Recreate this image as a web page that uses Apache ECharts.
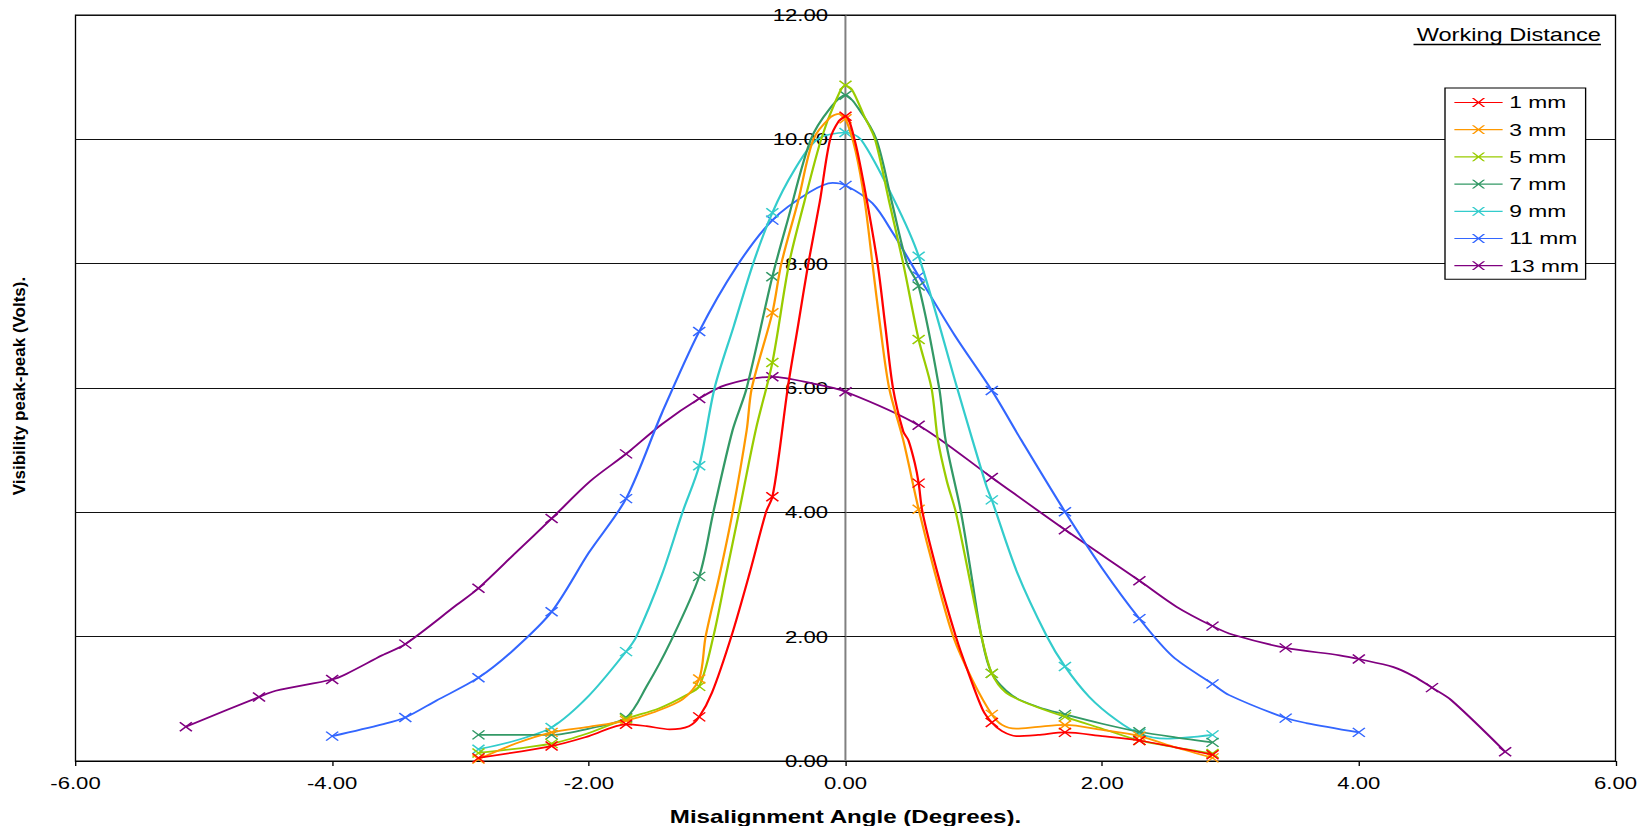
<!DOCTYPE html>
<html>
<head>
<meta charset="utf-8">
<script src="https://cdn.jsdelivr.net/npm/echarts/dist/echarts.min.js"></script>
<style>
html,body{margin:0;padding:0;background:#fff;overflow:hidden}
#wrap{width:1652px;height:826px;overflow:hidden;background:#fff}
#chart{width:1233px;height:826px;transform:scaleX(1.339822);transform-origin:0 0}
</style>
</head>
<body>
<div id="wrap"><div id="chart"></div></div>
<script>
// ---- data (angle in degrees, visibility in volts) ----
const MARKER_ANGLES = [-5.14,-4.57,-4.00,-3.43,-2.86,-2.29,-1.71,-1.14,-0.57,0,0.57,1.14,1.71,2.29,2.86,3.43,4.00,4.57,5.14];
const X_TICKS = [-6,-4,-2,0,2,4,6];
const Y_TICKS = [0,2,4,6,8,10,12];
const SERIES_NAMES = ['1 mm','3 mm','5 mm','7 mm','9 mm','11 mm','13 mm'];
const SERIES_COLORS = ['#FF0000','#FF9900','#99CC00','#339966','#33CCCC','#3366FF','#800080'];

const WD_1MM = [[-2.86,0.05],[-2.29,0.24],[-2.0,0.40],[-1.71,0.59],[-1.55,0.56],[-1.37,0.51],[-1.22,0.56],[-1.14,0.71],[-1.04,1.10],[-0.89,2.0],[-0.75,3.0],[-0.62,4.0],[-0.57,4.25],[-0.52,4.9],[-0.45,6.0],[-0.37,7.0],[-0.29,8.0],[-0.2,9.0],[-0.12,10.0],[-0.05,10.3],[0,10.37],[0.07,10.0],[0.15,9.2],[0.25,8.0],[0.31,7.0],[0.37,6.0],[0.45,5.3],[0.49,5.16],[0.54,4.79],[0.57,4.47],[0.6,4.0],[0.72,3.0],[0.86,2.0],[0.94,1.52],[1.07,0.82],[1.14,0.62],[1.22,0.48],[1.33,0.40],[1.5,0.42],[1.71,0.46],[2.0,0.40],[2.29,0.33],[2.57,0.22],[2.86,0.10]];
const WD_3MM = [[-2.86,0.03],[-2.57,0.28],[-2.29,0.46],[-2.0,0.55],[-1.71,0.65],[-1.5,0.78],[-1.27,0.99],[-1.14,1.32],[-1.09,2.0],[-0.98,3.0],[-0.88,4.0],[-0.77,5.32],[-0.73,6.0],[-0.57,7.21],[-0.50,8.0],[-0.37,9.0],[-0.25,10.0],[-0.12,10.35],[-0.05,10.41],[0,10.33],[0.08,9.8],[0.15,9.0],[0.21,8.0],[0.27,7.0],[0.34,6.0],[0.45,5.16],[0.57,4.05],[0.7,3.0],[0.84,2.0],[0.99,1.30],[1.14,0.75],[1.22,0.58],[1.33,0.52],[1.5,0.55],[1.71,0.58],[2.0,0.50],[2.29,0.40],[2.57,0.22],[2.86,0.05]];
const WD_5MM = [[-2.86,0.13],[-2.29,0.28],[-2.0,0.45],[-1.71,0.68],[-1.45,0.85],[-1.25,1.05],[-1.14,1.20],[-1.03,2.0],[-0.93,3.0],[-0.83,4.0],[-0.70,5.32],[-0.57,6.41],[-0.44,8.0],[-0.32,9.0],[-0.19,10.0],[-0.08,10.6],[0,10.87],[0.05,10.8],[0.14,10.4],[0.23,10.0],[0.34,9.0],[0.45,8.0],[0.57,6.78],[0.67,6.0],[0.72,5.16],[0.79,4.5],[0.86,4.0],[0.96,3.0],[1.06,2.0],[1.14,1.41],[1.25,1.1],[1.45,0.9],[1.71,0.71],[2.0,0.52],[2.29,0.33],[2.57,0.22],[2.86,0.12]];
const WD_7MM = [[-2.86,0.42],[-2.29,0.42],[-2.0,0.52],[-1.71,0.70],[-1.55,1.2],[-1.37,1.89],[-1.14,2.97],[-1.03,4.0],[-0.88,5.32],[-0.77,6.0],[-0.57,7.79],[-0.45,8.7],[-0.27,10.0],[-0.12,10.5],[0,10.71],[0.1,10.5],[0.24,10.0],[0.36,9.0],[0.48,8.0],[0.57,7.64],[0.73,6.0],[0.78,5.16],[0.9,4.0],[0.98,3.0],[1.06,2.0],[1.14,1.41],[1.3,1.05],[1.5,0.87],[1.71,0.75],[2.0,0.6],[2.29,0.47],[2.57,0.38],[2.86,0.30]];
const WD_9MM = [[-2.86,0.19],[-2.57,0.33],[-2.29,0.54],[-2.0,1.05],[-1.71,1.76],[-1.63,2.0],[-1.43,3.0],[-1.27,4.0],[-1.14,4.75],[-1.02,6.0],[-0.87,7.0],[-0.72,8.0],[-0.57,8.82],[-0.4,9.5],[-0.22,10.0],[0,10.11],[0.12,10.0],[0.38,9.02],[0.57,8.12],[0.87,6.0],[0.99,5.16],[1.1,4.41],[1.14,4.2],[1.34,3.02],[1.57,2.0],[1.71,1.52],[1.9,1.03],[2.11,0.66],[2.29,0.44],[2.5,0.36],[2.86,0.42]];
const WD_11MM = [[-4.0,0.40],[-3.61,0.59],[-3.43,0.70],[-3.19,0.97],[-2.86,1.34],[-2.59,1.78],[-2.29,2.40],[-2.0,3.35],[-1.71,4.22],[-1.43,5.6],[-1.14,6.91],[-0.85,7.95],[-0.57,8.70],[-0.28,9.15],[-0.1,9.3],[0,9.26],[0.21,8.97],[0.37,8.49],[0.57,7.80],[0.85,6.85],[1.14,5.96],[1.37,5.16],[1.71,4.01],[2.0,3.1],[2.29,2.29],[2.55,1.68],[2.86,1.24],[2.99,1.06],[3.43,0.69],[3.59,0.61],[4.0,0.46]];
const WD_13MM = [[-5.14,0.55],[-4.57,1.03],[-4.44,1.13],[-4.0,1.31],[-3.89,1.40],[-3.61,1.70],[-3.43,1.88],[-3.03,2.51],[-2.86,2.78],[-2.57,3.35],[-2.29,3.90],[-1.99,4.5],[-1.71,4.94],[-1.43,5.42],[-1.14,5.83],[-0.93,6.05],[-0.57,6.18],[-0.25,6.07],[0,5.94],[0.57,5.40],[1.14,4.56],[1.71,3.72],[2.29,2.90],[2.58,2.48],[2.86,2.17],[3.02,2.03],[3.43,1.82],[3.85,1.70],[4.0,1.64],[4.27,1.51],[4.43,1.36],[4.57,1.18],[4.72,0.98],[5.14,0.15]];
const SERIES_DATA = [WD_1MM, WD_3MM, WD_5MM, WD_7MM, WD_9MM, WD_11MM, WD_13MM];

// ---- styling ----
const FONT = '"Liberation Sans", Arial, sans-serif';
const X_MARK = 'path://M0,0L10,10M10,0L0,10';
const LEGEND_ICON = 'path://M0,4.4L36,4.4L36,5.6L0,5.6Z M13,0.6L14.6,0.6L23,9.4L21.4,9.4Z M21.4,0.6L23,0.6L14.6,9.4L13,9.4Z';
const GRID_LEFT = 56.35, GRID_RIGHT = 27.24, CHART_W = 1233;
const Y_AXIS_SHIFT = (CHART_W - GRID_LEFT - GRID_RIGHT) / 2; // moves y axis onto x = 0

function isMarker(v) {
  return MARKER_ANGLES.some(a => Math.abs(a - v[0]) < 1e-6);
}

const chart = echarts.init(document.getElementById('chart'), null, {renderer: 'svg'});

const series = SERIES_DATA.map((d, i) => ({
  name: SERIES_NAMES[i],
  type: 'line',
  data: d,
  smooth: 0.3,
  symbol: (v) => isMarker(v) ? X_MARK : 'none',
  symbolSize: [9, 9],
  showAllSymbol: true,
  lineStyle: {color: SERIES_COLORS[i], width: 1.7},
  itemStyle: {color: SERIES_COLORS[i], borderColor: SERIES_COLORS[i], borderWidth: 1.3},
  emphasis: {disabled: true},
  z: 10 - i
}));

chart.setOption({
  animation: false,
  backgroundColor: '#fff',
  grid: {left: GRID_LEFT, right: GRID_RIGHT, top: 15, bottom: 65, containLabel: false, outerBoundsMode: 'none',
         show: true, borderColor: '#000', borderWidth: 1, backgroundColor: 'transparent'},
  xAxis: {
    type: 'value', min: X_TICKS[0], max: X_TICKS[X_TICKS.length - 1], interval: 2,
    name: 'Misalignment Angle (Degrees).', nameLocation: 'middle', nameGap: 47,
    nameTextStyle: {fontFamily: FONT, fontSize: 18, fontWeight: 'bold', color: '#000'},
    axisLine: {onZero: false, lineStyle: {color: '#000', width: 1}},
    axisTick: {show: true, length: 5, lineStyle: {color: '#000'}},
    axisLabel: {margin: 14, fontFamily: FONT, fontSize: 16.5, color: '#000', formatter: v => v.toFixed(2)},
    splitLine: {show: false}
  },
  yAxis: {
    type: 'value', min: Y_TICKS[0], max: Y_TICKS[Y_TICKS.length - 1], interval: 2,
    offset: -Y_AXIS_SHIFT,
    axisLine: {show: true, onZero: false, lineStyle: {color: '#808080', width: 1.5}},
    axisTick: {show: true, length: 3, lineStyle: {color: '#000'}},
    axisLabel: {margin: 13, fontFamily: FONT, fontSize: 16.5, color: '#000', formatter: v => v.toFixed(2)},
    splitLine: {show: true, lineStyle: {color: '#111', width: 1}}
  },
  legend: {
    orient: 'vertical', left: 1078.5, top: 88,
    padding: [6, 5, 5, 7], itemGap: 10.2, itemWidth: 36, itemHeight: 10,
    backgroundColor: '#fff', borderColor: '#000', borderWidth: 1,
    textStyle: {fontFamily: FONT, fontSize: 17, color: '#000', lineHeight: 17},
    itemStyle: {borderWidth: 0},
    selectedMode: false,
    data: SERIES_NAMES.map(n => ({name: n, icon: LEGEND_ICON}))
  },
  graphic: [
    {type: 'text', x: 1194.9, y: 35, style: {text: 'Working Distance', font: '17.6px ' + FONT, fill: '#000', align: 'right', verticalAlign: 'middle'}},
    {type: 'line', shape: {x1: 1055, y1: 44.5, x2: 1194.9, y2: 44.5}, style: {stroke: '#000', lineWidth: 1.3}},
    {type: 'text', x: 14.6, y: 386, rotation: Math.PI / 2, scaleY: 0.72,
     style: {text: 'Visibility peak-peak (Volts).', font: 'bold 17px ' + FONT, fill: '#000', align: 'center', verticalAlign: 'middle'}}
  ],
  series: series
});
</script>
</body>
</html>
